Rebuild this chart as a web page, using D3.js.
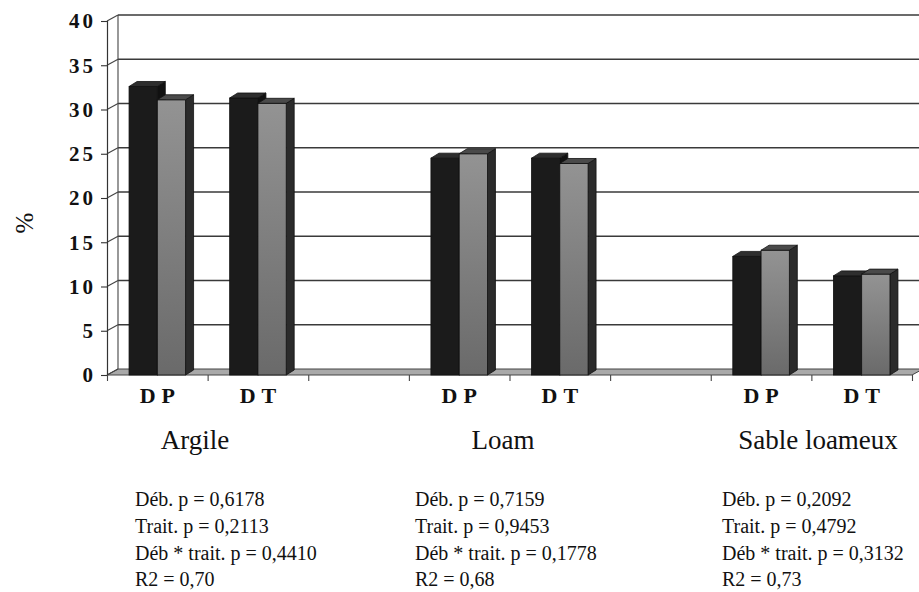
<!DOCTYPE html>
<html>
<head>
<meta charset="utf-8">
<script src="https://cdn.jsdelivr.net/npm/d3@7/dist/d3.min.js"></script>
<style>
  html, body { margin: 0; padding: 0; background: #fff; }
  svg { display: block; }
</style>
</head>
<body>
<svg id="chart" width="919" height="592"></svg>
<script>
// ---------- DATA ----------
const categories = ["DP", "DT", "", "DP", "DT", "", "DP", "DT"];
const seriesNames = ["Série 1", "Série 2"];
const series1 = [32.6, 31.3, null, 24.5, 24.5, null, 13.4, 11.2];
const series2 = [31.1, 30.7, null, 25.0, 23.9, null, 14.1, 11.4];
const yTicks = [0, 5, 10, 15, 20, 25, 30, 35, 40];
const yLabel = "%";
const groupNames = ["Argile", "Loam", "Sable loameux"];
const statsArgile = ["Déb. p = 0,6178", "Trait. p = 0,2113", "Déb * trait. p = 0,4410", "R2 = 0,70"];
const statsLoam = ["Déb. p = 0,7159", "Trait. p = 0,9453", "Déb * trait. p = 0,1778", "R2 = 0,68"];
const statsSable = ["Déb. p = 0,2092", "Trait. p = 0,4792", "Déb * trait. p = 0,3132", "R2 = 0,73"];

// ---------- LAYOUT ----------
const SERIF = "Liberation Serif";
const svg = d3.select("#chart");
const X0 = 107, X1 = 912, Y0 = 375, Y40 = 21;
const wallDX = 11, wallDY = -6;
const barDX = 8, barDY = -5;

const x = d3.scaleBand().domain(d3.range(categories.length)).range([X0, X1]).padding(0);
const xs = d3.scaleBand().domain(seriesNames).range([0, x.bandwidth()]).paddingInner(0).paddingOuter(0.78);
const y = d3.scaleLinear().domain([0, 40]).range([Y0, Y40]);

// floor
const floorPts = [[X0, Y0], [X1, Y0], [X1 + wallDX, Y0 + wallDY], [X0 + wallDX, Y0 + wallDY]];
svg.append("polygon")
  .attr("points", floorPts.map(p => p.join(",")).join(" "))
  .attr("fill", "#a9a9a9").attr("stroke", "#444").attr("stroke-width", 1);

// back-wall gridlines
svg.append("g").selectAll("line").data(yTicks).join("line")
  .attr("x1", X0 + wallDX).attr("x2", 919)
  .attr("y1", d => y(d) + wallDY).attr("y2", d => y(d) + wallDY)
  .attr("stroke", d => d === 0 ? "none" : "#3a3a3a").attr("stroke-width", 1.6);

// side wall diagonals
svg.append("g").selectAll("line").data(yTicks).join("line")
  .attr("x1", X0).attr("x2", X0 + wallDX)
  .attr("y1", d => y(d)).attr("y2", d => y(d) + wallDY)
  .attr("stroke", "#444").attr("stroke-width", 1.1);

// back wall left edge
svg.append("line")
  .attr("x1", X0 + wallDX).attr("x2", X0 + wallDX)
  .attr("y1", y(40) + wallDY).attr("y2", y(0) + wallDY)
  .attr("stroke", "#444").attr("stroke-width", 1.1);

// y axis
const yAxis = d3.axisLeft(y).tickValues(yTicks).tickSize(6).tickPadding(5).tickFormat(d3.format("d"));
const gy = svg.append("g").attr("transform", `translate(${X0},0)`).call(yAxis)
  .attr("font-family", SERIF);
gy.select(".domain").attr("stroke", "#333").attr("stroke-width", 1.2);
gy.selectAll(".tick line").attr("stroke", "#333").attr("stroke-width", 1.1);
gy.selectAll(".tick text")
  .attr("font-size", 21).attr("font-weight", "bold")
  .attr("letter-spacing", "3px").attr("fill", "#111")
  .attr("dy", "0.33em");

// x axis ticks at band boundaries
const xAxis = d3.axisBottom(d3.scaleLinear().domain([0, categories.length]).range([X0, X1]))
  .tickValues(d3.range(categories.length + 1)).tickSize(6).tickFormat("");
const gx = svg.append("g").attr("transform", `translate(0,${Y0})`).call(xAxis);
gx.select(".domain").remove();
gx.selectAll(".tick line").attr("stroke", "#444").attr("stroke-width", 1.1);

// x category labels
svg.append("g").selectAll("text").data(categories).join("text")
  .attr("x", (d, i) => x(i) + x.bandwidth() / 2 + 3)
  .attr("y", 403)
  .attr("text-anchor", "middle")
  .attr("font-family", SERIF)
  .attr("font-size", 22).attr("font-weight", "bold")
  .attr("letter-spacing", "6px")
  .attr("fill", "#111")
  .text(d => d);

// bars
const defs = svg.append("defs");
const grad = defs.append("linearGradient").attr("id", "grayFront").attr("x1", 0).attr("x2", 0).attr("y1", 0).attr("y2", 1);
grad.append("stop").attr("offset", "0%").attr("stop-color", "#939393");
grad.append("stop").attr("offset", "100%").attr("stop-color", "#6a6a6a");

const styles = {
  "Série 1": { front: "#1b1b1b", top: "#2e2e2e", side: "#111" },
  "Série 2": { front: "url(#grayFront)", top: "#4a4a4a", side: "#2b2b2b" }
};
const barData = [];
categories.forEach((c, i) => {
  [series1, series2].forEach((s, k) => {
    if (s[i] != null) barData.push({ i, name: seriesNames[k], v: s[i] });
  });
});
const gb = svg.append("g");
barData.forEach(d => {
  const bx = x(d.i) + xs(d.name), bw = xs.bandwidth();
  const top = y(d.v), bot = y(0);
  const st = styles[d.name];
  const g = gb.append("g");
  g.append("polygon")
    .attr("points", [[bx + bw, top], [bx + bw + barDX, top + barDY], [bx + bw + barDX, bot + barDY], [bx + bw, bot]].map(p => p.join(",")).join(" "))
    .attr("fill", st.side).attr("stroke", "#111").attr("stroke-width", 0.8);
  g.append("rect").attr("x", bx).attr("y", top).attr("width", bw).attr("height", bot - top)
    .attr("fill", st.front).attr("stroke", "#111").attr("stroke-width", 0.8);
  g.append("polygon")
    .attr("points", [[bx, top], [bx + bw, top], [bx + bw + barDX, top + barDY], [bx + barDX, top + barDY]].map(p => p.join(",")).join(" "))
    .attr("fill", st.top).attr("stroke", "#111").attr("stroke-width", 0.8);
});

// y label
svg.append("text")
  .attr("transform", "translate(33,223) rotate(-90)")
  .attr("text-anchor", "middle")
  .attr("font-family", SERIF)
  .attr("font-size", 25)
  .attr("fill", "#111")
  .text(yLabel);

// group names
const groupX = [195, 503, 818];
svg.append("g").selectAll("text").data(groupNames).join("text")
  .attr("x", (d, i) => groupX[i]).attr("y", 449)
  .attr("text-anchor", "middle").attr("font-size", 27)
  .attr("font-family", SERIF)
  .attr("fill", "#111")
  .text(d => d);

// stats
const statsX = [135, 415, 722];
const statsLineY = [506, 533, 560, 586];
[statsArgile, statsLoam, statsSable].forEach((lines, k) => {
  svg.append("g").selectAll("text").data(lines).join("text")
    .attr("x", statsX[k]).attr("y", (d, j) => statsLineY[j])
    .attr("font-family", SERIF)
    .attr("font-size", 20)
    .attr("fill", "#111")
    .text(d => d);
});
</script>
</body>
</html>
